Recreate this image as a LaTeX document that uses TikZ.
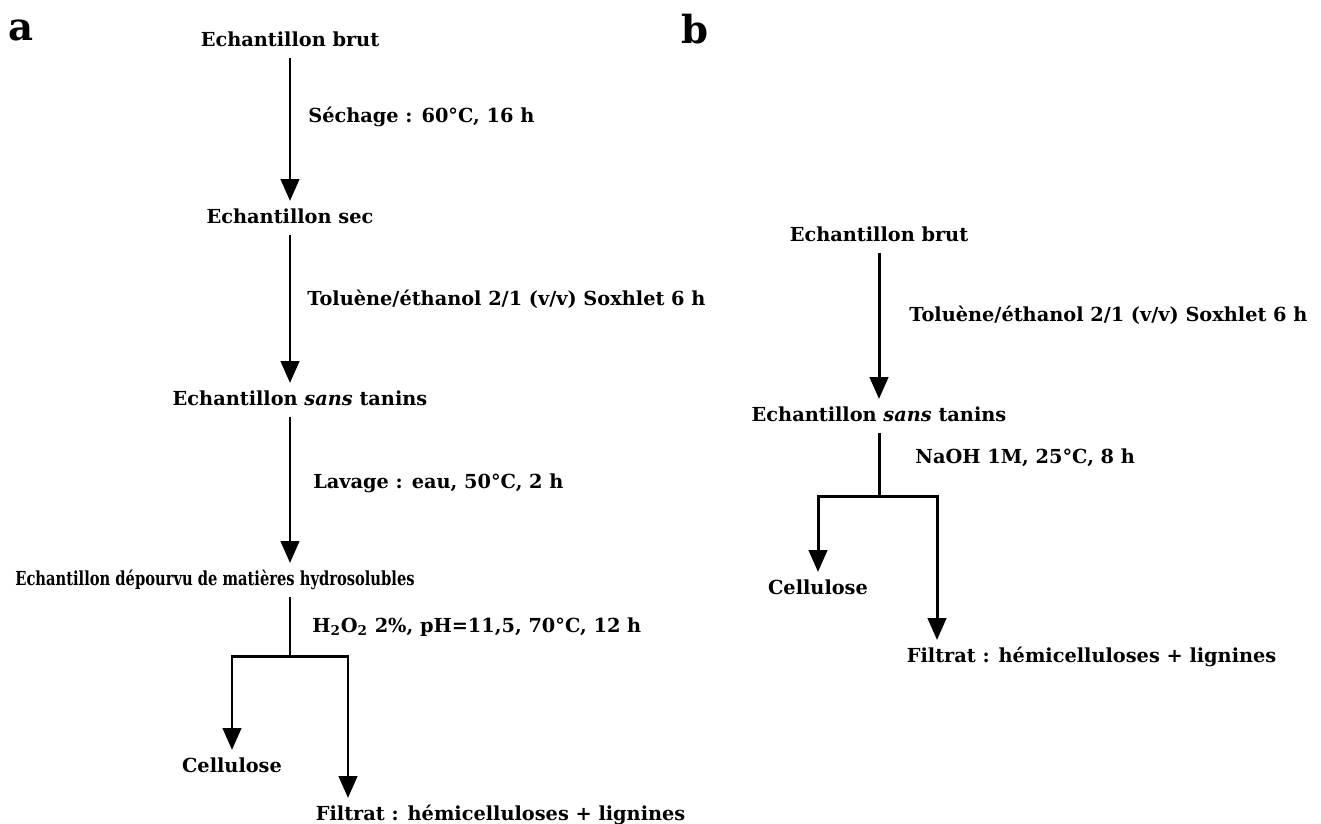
\documentclass[tikz,border=0pt]{standalone}
\usepackage{fontspec}
\setmainfont{DejaVu Serif}
\usepackage{tikz}
\usetikzlibrary{arrows.meta,positioning,calc}
\tikzset{
    % Base text node style
    etape/.style={
        inner xsep=2pt,
        inner ysep=4pt,
        text height=8.5pt,
        text depth=2.5pt,
        font=\fontsize{11}{13}\selectfont\bfseries
    },
    % Condition label beside an arrow
    condition/.style={
        etape,
        anchor=west,
        inner sep=0pt
    },
    % Panel letter
    lettre/.style={
        anchor=base,
        inner sep=0pt,
        font=\fontsize{22}{26}\selectfont\bfseries
    },
    % Plain line (no tip)
    trait/.style={
        line width=1.7pt,
        draw=black
    },
    % Arrow
    fleche/.style={
        trait,
        -{Triangle[length=12.5pt,width=10.5pt]}
    }
}

\begin{document}
\begin{tikzpicture}[x=0.02cm,y=-0.02cm]
                \useasboundingbox (0,0) rectangle (1321,823);
                % panel a
                \node[lettre] (lettreA) at (21,40) {a};
                \node[etape] (brutA) at (290,41) {Echantillon brut};
                \node[etape] (secA) at (290,218) {Echantillon sec};
                \node[etape] (sansA) at (300,400) {Echantillon \textit{sans} tanins};
                \node[etape] (depA) at (215,580) {\scalebox{0.76}[1]{Echantillon dépourvu de matières hydrosolubles}};
                \node[etape] (celA) at (232,767) {Cellulose};
                \node[etape, anchor=west] (filA) at (312,815) {Filtrat : hémicelluloses + lignines};

                \node[condition] (sechA) at (308,117) {Séchage : 60°C, 16 h};
                \node[condition] (tolA) at (307,300) {Toluène/éthanol 2/1 (v/v) Soxhlet 6 h};
                \node[condition] (lavA) at (313,483) {Lavage : eau, 50°C, 2 h};
                \node[condition] (hA) at (312,627) {H\textsubscript{2}O\textsubscript{2} 2\%, pH=11,5, 70°C, 12 h};

                \coordinate (splitA) at (290,656);
                \coordinate (brA) at (348,656);

                \draw[fleche] (brutA.south -| 290,0) -- (secA.north -| 290,0);
                \draw[fleche] (secA.south -| 290,0) -- (sansA.north -| 290,0);
                \draw[fleche] (sansA.south -| 290,0) -- (depA.north -| 290,0);
                \draw[trait] (depA.south -| splitA) -- (splitA);
                \draw[fleche] (splitA) -| (celA);
                \draw[fleche] (splitA) -- (brA) -- (brA |- filA.north);

                % panel b
                \node[lettre] (lettreB) at (695,43) {b};
                \node[etape] (brutB) at (879,236) {Echantillon brut};
                \node[etape] (sansB) at (879,416) {Echantillon \textit{sans} tanins};
                \node[etape] (celB) at (818,589) {Cellulose};
                \node[etape, anchor=west] (filB) at (903,657) {Filtrat : hémicelluloses + lignines};

                \node[condition] (tolB) at (909,316) {Toluène/éthanol 2/1 (v/v) Soxhlet 6 h};
                \node[condition] (naB) at (915,458) {NaOH 1M, 25°C, 8 h};

                \coordinate (splitB) at (879,496);
                \coordinate (brB) at (937,496);

                \draw[fleche] (brutB) -- (sansB);
                \draw[trait] (sansB) -- (splitB);
                \draw[fleche] (splitB) -| (celB);
                \draw[fleche] (splitB) -- (brB) -- (brB |- filB.north);
            \end{tikzpicture}
\end{document}
